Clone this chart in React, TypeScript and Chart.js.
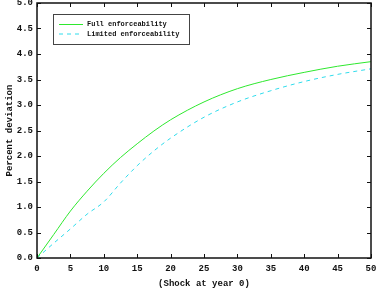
import React, { useEffect, useRef } from "react";
import { Chart, registerables } from "chart.js";

Chart.register(...registerables);

// Years after the shock
const years = [0, 2.5, 5, 7.5, 10, 12.5, 15, 17.5, 20, 25, 30, 35, 40, 45, 50];
// Percent deviation, full enforceability
const fullEnforce = [0, 0.46, 0.92, 1.31, 1.66, 1.97, 2.24, 2.49, 2.71, 3.06, 3.32, 3.5, 3.64, 3.76, 3.85];
// Percent deviation, limited enforceability
const limitedEnforce = [0, 0.29, 0.57, 0.86, 1.1, 1.47, 1.81, 2.1, 2.35, 2.76, 3.06, 3.28, 3.46, 3.6, 3.71];

const seriesLabels = ["Full enforceability", "Limited enforceability"];
const xTitle = "(Shock at year 0)";
const yTitle = "Percent deviation";

const MONO = "'Liberation Mono', 'DejaVu Sans Mono', monospace";

// Black frame with inward tick marks on all four sides
const framePlugin = {
  id: "frame",
  afterDraw(chart: any) {
    const { ctx, chartArea, scales } = chart;
    const { left, right, top, bottom } = chartArea;
    const tick = 4;
    ctx.save();
    ctx.strokeStyle = "#111";
    ctx.lineWidth = 1;
    scales.x.ticks.forEach((t: any) => {
      const px = Math.round(scales.x.getPixelForValue(t.value)) + 0.5;
      ctx.beginPath();
      ctx.moveTo(px, bottom);
      ctx.lineTo(px, bottom - tick);
      ctx.moveTo(px, top);
      ctx.lineTo(px, top + tick);
      ctx.stroke();
    });
    scales.y.ticks.forEach((t: any) => {
      const py = Math.round(scales.y.getPixelForValue(t.value)) + 0.5;
      ctx.beginPath();
      ctx.moveTo(left, py);
      ctx.lineTo(left + tick, py);
      ctx.moveTo(right, py);
      ctx.lineTo(right - tick, py);
      ctx.stroke();
    });
    ctx.lineWidth = 1.5;
    ctx.strokeRect(left, top, right - left, bottom - top);
    ctx.restore();
  },
};

// Boxed legend in the upper-left corner of the plot
const boxLegendPlugin = {
  id: "boxLegend",
  afterDraw(chart: any) {
    const { ctx, chartArea } = chart;
    const x = chartArea.left + 16;
    const y = chartArea.top + 11;
    const w = 136;
    const h = 30;
    ctx.save();
    ctx.fillStyle = "#fff";
    ctx.fillRect(x, y, w, h);
    ctx.strokeStyle = "#444";
    ctx.lineWidth = 1;
    ctx.strokeRect(x + 0.5, y + 0.5, w, h);
    chart.data.datasets.forEach((ds: any, i: number) => {
      const ly = y + 10.5 + i * 9.5;
      ctx.beginPath();
      ctx.strokeStyle = ds.borderColor;
      ctx.lineWidth = ds.borderWidth;
      ctx.setLineDash(ds.borderDash || []);
      ctx.moveTo(x + 6, ly);
      ctx.lineTo(x + 30, ly);
      ctx.stroke();
      ctx.setLineDash([]);
      ctx.fillStyle = "#111";
      ctx.font = `bold 7px ${MONO}`;
      ctx.textBaseline = "middle";
      ctx.fillText(ds.label, x + 34, ly);
    });
    ctx.restore();
  },
};

export default function App() {
  const ref = useRef<HTMLCanvasElement>(null);

  useEffect(() => {
    if (!ref.current) return;
    const chart = new Chart(ref.current, {
      type: "line",
      data: {
        datasets: [
          {
            label: seriesLabels[0],
            data: years.map((t, i) => ({ x: t, y: fullEnforce[i] })),
            borderColor: "#2ee82e",
            borderWidth: 1,
            pointRadius: 0,
            cubicInterpolationMode: "monotone",
            fill: false,
          },
          {
            label: seriesLabels[1],
            data: years.map((t, i) => ({ x: t, y: limitedEnforce[i] })),
            borderColor: "#2fdcec",
            borderWidth: 1,
            borderDash: [4, 4],
            pointRadius: 0,
            cubicInterpolationMode: "monotone",
            fill: false,
          },
        ],
      },
      options: {
        responsive: false,
        animation: false,
        layout: { padding: { top: 3, right: 5, left: 0, bottom: 0 } },
        plugins: {
          legend: { display: false },
          tooltip: { enabled: false },
        },
        scales: {
          x: {
            type: "linear",
            min: 0,
            max: 50,
            grid: { display: false, drawTicks: false },
            border: { display: false },
            ticks: {
              stepSize: 5,
              padding: 5,
              color: "#111",
              maxRotation: 0,
              font: { family: MONO, size: 9, weight: "bold" },
            },
            title: {
              display: true,
              text: xTitle,
              color: "#111",
              padding: { top: 0, bottom: 3 },
              font: { family: MONO, size: 9, weight: "bold" },
            },
            afterFit(scale: any) {
              scale.height = 34;
              scale.paddingLeft = 0;
              scale.paddingRight = 0;
            },
          },
          y: {
            min: 0,
            max: 5,
            grid: { display: false, drawTicks: false },
            border: { display: false },
            ticks: {
              stepSize: 0.5,
              padding: 4,
              color: "#111",
              font: { family: MONO, size: 9, weight: "bold" },
              callback: (v: any) => Number(v).toFixed(1),
            },
            title: {
              display: true,
              text: yTitle,
              color: "#111",
              padding: { top: 4, bottom: 0 },
              font: { family: MONO, size: 9, weight: "bold" },
            },
            afterFit(scale: any) {
              scale.width = 37;
              scale.paddingTop = 0;
              scale.paddingBottom = 0;
            },
          },
        },
      },
      plugins: [framePlugin, boxLegendPlugin],
    });
    return () => chart.destroy();
  }, []);

  return (
    <canvas
      ref={ref}
      width={376}
      height={292}
      style={{ position: "absolute", left: 0, top: 0, width: 376, height: 292, background: "#fff" }}
    />
  );
}
